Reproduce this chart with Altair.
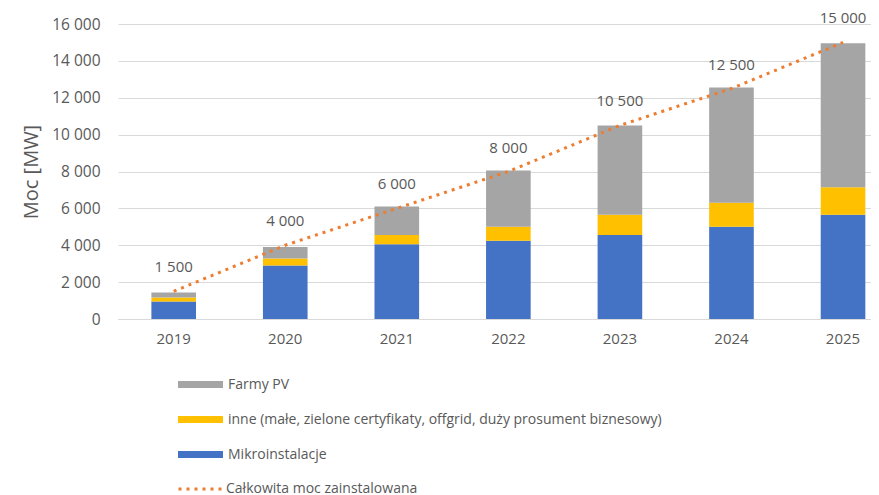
import altair as alt
import pandas as pd

years = ["2019", "2020", "2021", "2022", "2023", "2024", "2025"]
mikro = [950, 2900, 4050, 4250, 4550, 5000, 5650]
inne = [220, 380, 500, 750, 1100, 1300, 1500]
farmy = [270, 620, 1550, 3050, 4850, 6250, 7800]
total = [1500, 4000, 6000, 8000, 10500, 12500, 15000]
y_ticks = [0, 2000, 4000, 6000, 8000, 10000, 12000, 14000, 16000]

s_farmy = "Farmy PV"
s_inne = "inne (małe, zielone certyfikaty, offgrid, duży prosument biznesowy)"
s_mikro = "Mikroinstalacje"
s_total = "Całkowita moc zainstalowana"

rows = []
for i, y in enumerate(years):
    rows.append({"rok": y, "seria": s_mikro, "val": mikro[i], "ord": 0})
    rows.append({"rok": y, "seria": s_inne, "val": inne[i], "ord": 1})
    rows.append({"rok": y, "seria": s_farmy, "val": farmy[i], "ord": 2})
bars_df = pd.DataFrame(rows)
tot_df = pd.DataFrame({"rok": years, "total": total, "seria": [s_total] * len(years)})

FONT = "Open Sans"
TXT = "#595959"

xscale = alt.Scale(paddingInner=0.6, paddingOuter=0.175, align=0.855)
yscale = alt.Scale(domain=[0, 16000])

y_axis = alt.Axis(title="Moc [MW]", values=y_ticks, tickCount=20,
                  labelExpr="replace(format(datum.value, ','), ',', ' ')",
                  labelOverlap=False,
                  ticks=False, domain=False, gridColor="#D9D9D9",
                  labelPadding=18, labelFontSize=15.5, labelColor=TXT, labelFont=FONT,
                  titleFontSize=20, titleFont=FONT, titleColor=TXT,
                  titleFontWeight="normal", titlePadding=10)

x_enc = alt.X("rok:N", scale=xscale, sort=years,
              axis=alt.Axis(title=None, labelAngle=0, ticks=False, labelPadding=12,
                            domainColor="#D9D9D9", labelFontSize=15, labelColor=TXT,
                            labelFont=FONT))

bars = alt.Chart(bars_df).mark_bar().encode(
    x=x_enc,
    y=alt.Y("val:Q", stack="zero", scale=yscale, axis=y_axis),
    color=alt.Color("seria:N",
                    scale=alt.Scale(domain=[s_farmy, s_inne, s_mikro],
                                    range=["#A5A5A5", "#FFC000", "#4472C4"]),
                    legend=alt.Legend(title=None, orient="none", legendX=60, legendY=338,
                                      symbolType="M-1,-0.16L1,-0.16L1,0.16L-1,0.16Z",
                                      symbolSize=2025, symbolStrokeWidth=0,
                                      labelFontSize=14, labelColor=TXT, labelFont=FONT,
                                      labelLimit=700, labelOffset=5, rowPadding=5)),
    order=alt.Order("ord:Q"),
)

line = alt.Chart(tot_df).mark_line(strokeWidth=3, strokeDash=[3, 5]).encode(
    x=alt.X("rok:N", sort=years),
    y=alt.Y("total:Q", axis=y_axis),
    color=alt.Color("seria:N", scale=alt.Scale(domain=[s_total], range=["#ED7D31"]),
                    legend=alt.Legend(title=None, orient="none", legendX=59, legendY=441,
                                      symbolType="stroke", symbolSize=2025,
                                      symbolStrokeWidth=3, symbolDash=[3, 5],
                                      labelFontSize=14, labelColor=TXT, labelFont=FONT,
                                      labelLimit=700, labelOffset=1)),
)

labels = alt.Chart(tot_df).mark_text(dy=-24, fontSize=15, font=FONT, color=TXT).encode(
    x=alt.X("rok:N", sort=years),
    y=alt.Y("total:Q", axis=y_axis),
    text=alt.Text("label:N"),
).transform_calculate(label="replace(format(datum.total, ','), ',', ' ')")

chart = alt.layer(bars, line, labels).resolve_scale(color="independent").properties(
    width=753, height=295,
    autosize=alt.AutoSizeParams(type="none"),
    padding={"left": 110, "top": 16, "right": 0, "bottom": 180},
).configure_view(stroke=None)

chart.save("out.html", embed_options={"renderer": "svg", "actions": False})
